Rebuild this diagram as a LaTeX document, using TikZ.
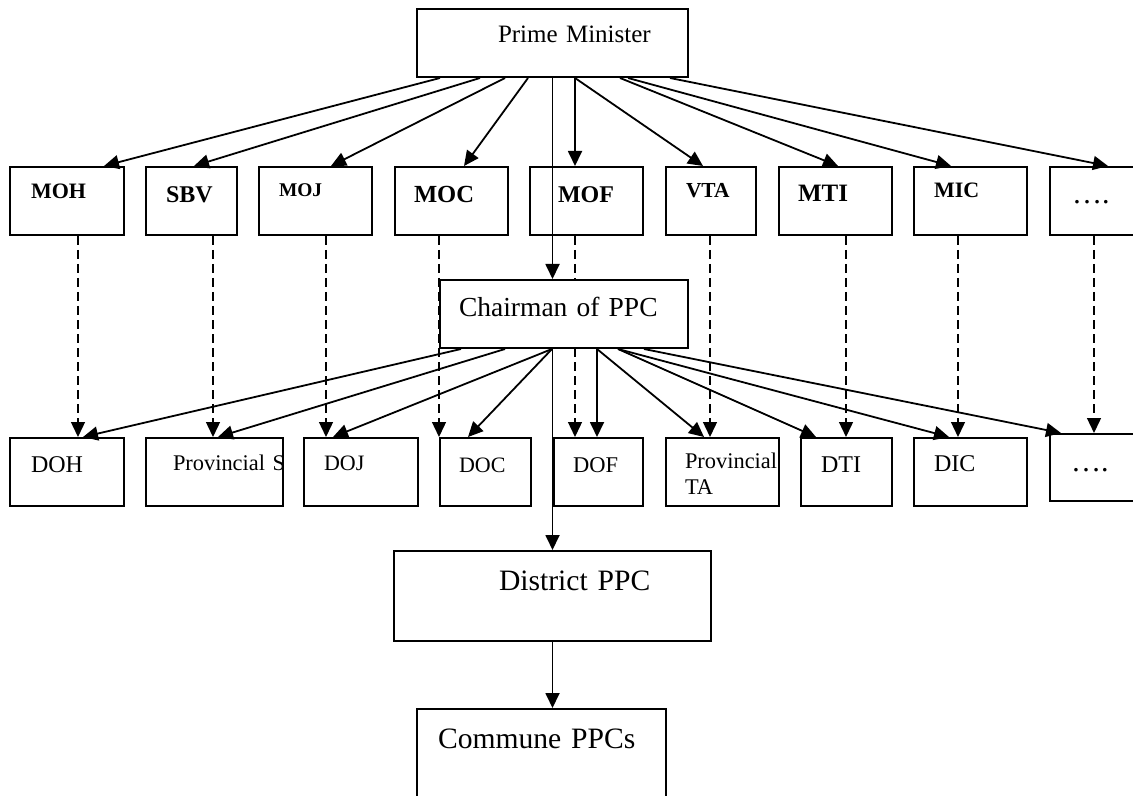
\documentclass[tikz,border=0pt]{standalone}
\usepackage{fontspec}
\setmainfont{Liberation Serif}
\usetikzlibrary{arrows.meta,backgrounds}

\begin{document}
\begin{tikzpicture}[x=0.5pt, y=-0.5pt,
        box/.style={rectangle, draw, line width=1pt, fill=white, anchor=north west, inner ysep=0pt, align=left},
        ministry/.style={box, font=\fontsize{#1}{#1}\selectfont\bfseries},
        office/.style={box, font=\fontsize{#1}{13pt}\selectfont},
        arrow/.style={-{Triangle[length=7.5pt, width=7pt]}, line width=0.9pt},
        dashline/.style={arrow, line width=0.7pt, dash pattern=on 4.5pt off 2.5pt}
    ]
        \useasboundingbox (0,0) rectangle (1133,796);
        \clip (0,0) rectangle (1133,796);

        % Top
        \node[office=12.5pt, inner xsep=40.5pt, text width=54.5pt, text height=17pt, text depth=17pt] (pm) at (416,8) {\mbox{Prime Minister}};

        % Ministries
        \node[ministry=11pt, inner xsep=10.5pt, text width=36pt, text height=16pt, text depth=18pt] (moh) at (9,166) {MOH};
        \node[ministry=12pt, inner xsep=10pt, text width=25.5pt, text height=18pt, text depth=16pt] (sbv) at (145,166) {SBV};
        \node[ministry=9.7pt, inner xsep=10pt, text width=36.5pt, text height=15pt, text depth=19pt] (moj) at (258,166) {MOJ};
        \node[ministry=12.3pt, inner xsep=9.5pt, text width=37.5pt, text height=18pt, text depth=16pt] (moc) at (394,166) {MOC};
        \node[ministry=12pt, inner xsep=14pt, text width=28.5pt, text height=18pt, text depth=16pt] (mof) at (529,166) {MOF};
        \node[ministry=10.7pt, inner xsep=10pt, text width=25pt, text height=15.5pt, text depth=18.5pt] (vta) at (665,166) {VTA};
        \node[ministry=12.5pt, inner xsep=9.5pt, text width=37.5pt, text height=17.5pt, text depth=16.5pt] (mti) at (778,166) {MTI};
        \node[ministry=11pt, inner xsep=10pt, text width=36.5pt, text height=15.5pt, text depth=18.5pt] (mic) at (913,166) {MIC};
        \node[office=15pt, inner xsep=11pt, text width=34.5pt, text height=18.5pt, text depth=15.5pt] (mmore) at (1049,166) {….};

        % Province
        \node[office=13.75pt, inner xsep=9.5pt, text width=105pt, text height=18pt, text depth=16pt] (chair) at (439,279) {Chairman of PPC};

        % Departments
        \node[office=12pt, inner xsep=10.5pt, text width=36pt, text height=17pt, text depth=17pt] (doh) at (9,437) {DOH};
        \node[office=11.2pt, inner xsep=13.5pt, text width=41.5pt, text height=16pt, text depth=18pt] (pss) at (145,437) {\mbox{Provincial S}};
        \node[office=11pt, inner xsep=10pt, text width=37pt, text height=16pt, text depth=18pt] (doj) at (303,437) {DOJ};
        \node[office=11pt, inner xsep=9.5pt, text width=26.5pt, text height=17pt, text depth=17pt] (doc) at (439,437) {DOC};
        \node[office=11.25pt, inner xsep=9.5pt, text width=25.5pt, text height=17pt, text depth=17pt] (dof) at (553,437) {DOF};
        \node[office=11.2pt, inner xsep=9.5pt, text width=37.5pt, text height=15pt, text depth=19pt] (pta) at (665,437) {\mbox{Provincial}\\TA};
        \node[office=12pt, inner xsep=10pt, text width=25.5pt, text height=17pt, text depth=17pt] (dti) at (800,437) {DTI};
        \node[office=12pt, inner xsep=10pt, text width=36.5pt, text height=16.5pt, text depth=17.5pt] (dic) at (913,437) {DIC};
        \node[office=15pt, inner xsep=10.5pt, text width=35.5pt, text height=18.5pt, text depth=15pt] (dmore) at (1049,433) {….};

        % Lower levels
        \node[office=14.8pt, inner xsep=52.5pt, text width=53.5pt, text height=19.5pt, text depth=25.5pt] (district) at (393,550) {\mbox{District PPC}};
        \node[office=14.8pt, inner xsep=10.5pt, text width=103.5pt, text height=19.5pt, text depth=41.5pt] (commune) at (416,708) {Commune PPCs};

        % Dashed links
        \begin{scope}[on background layer]
            \draw[dashline] ([xshift=34.5pt]moh.south west) -- ([xshift=34.5pt]doh.north west);
            \draw[dashline] ([xshift=34pt]sbv.south west) -- ([xshift=34pt]pss.north west);
            \draw[dashline] ([xshift=34pt]moj.south west) -- ([xshift=11.5pt]doj.north west);
            \draw[dashline] ([xshift=22.5pt]moc.south west) -- (doc.north west);
            \draw[dashline] ([xshift=23pt]mof.south west) -- ([xshift=11pt]dof.north west);
            \draw[dashline] ([xshift=22.5pt]vta.south west) -- ([xshift=22.5pt]pta.north west);
            \draw[dashline] ([xshift=34pt]mti.south west) -- ([xshift=23pt]dti.north west);
            \draw[dashline] ([xshift=22.5pt]mic.south west) -- ([xshift=22.5pt]dic.north west);
            \draw[dashline] ([xshift=22.5pt]mmore.south west) -- ([xshift=22.5pt]dmore.north west);
        \end{scope}

        % Arrows from the top
        \draw[arrow] ([xshift=12pt]pm.south west) -- ([xshift=47.5pt]moh.north west);
        \draw[arrow] ([xshift=32pt]pm.south west) -- ([xshift=24.5pt]sbv.north west);
        \draw[arrow] ([xshift=44.5pt]pm.south west) -- ([xshift=36.5pt]moj.north west);
        \draw[arrow] ([xshift=56pt]pm.south west) -- ([xshift=35pt]moc.north west);
        \draw[arrow] ([xshift=79.5pt]pm.south west) -- ([xshift=23pt]mof.north west);
        \draw[arrow] ([xshift=79.5pt]pm.south west) -- ([xshift=19pt]vta.north west);
        \draw[arrow] ([xshift=102pt]pm.south west) -- ([xshift=30pt]mti.north west);
        \draw[arrow] ([xshift=106pt]pm.south west) -- ([xshift=19pt]mic.north west);
        \draw[arrow] ([xshift=127pt]pm.south west) -- ([xshift=29.5pt]mmore.north west);
        \draw[arrow] (pm.south) -- (pm.south |- chair.north);

        % Arrows from the chairman
        \draw[arrow] ([xshift=11pt]chair.south west) -- ([xshift=37pt]doh.north west);
        \draw[arrow] ([xshift=33pt]chair.south west) -- ([xshift=36.5pt]pss.north west);
        \draw[arrow] ([xshift=56.5pt]chair.south west) -- ([xshift=15pt]doj.north west);
        \draw[arrow] ([xshift=56.5pt]chair.south west) -- ([xshift=14.5pt]doc.north west);
        \draw[arrow] ([xshift=79pt]chair.south west) -- ([xshift=22pt]dof.north west);
        \draw[arrow] ([xshift=79pt]chair.south west) -- ([xshift=19.5pt]pta.north west);
        \draw[arrow] ([xshift=89.5pt]chair.south west) -- ([xshift=8pt]dti.north west);
        \draw[arrow] ([xshift=89.5pt]chair.south west) -- ([xshift=18pt]dic.north west);
        \draw[arrow] ([xshift=102.5pt]chair.south west) -- ([xshift=6pt]dmore.north west);
        \draw[arrow] (district.north |- chair.south) -- (district.north);
        \draw[arrow] (district.south) -- (district.south |- commune.north);
    \end{tikzpicture}
\end{document}
